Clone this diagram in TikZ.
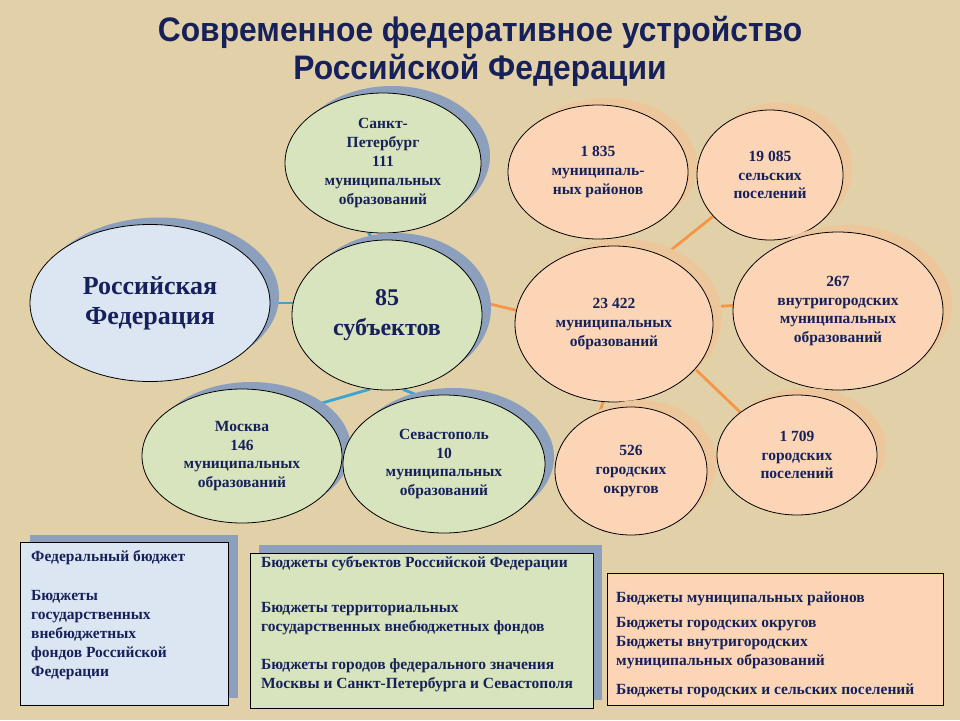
\documentclass[tikz,border=0pt]{standalone}
\usepackage{fontspec}
\usepackage{graphicx}
\setmainfont{Liberation Serif}
\newfontfamily\titlefont{Liberation Sans}
\usetikzlibrary{shapes.geometric,shadows,backgrounds}
\definecolor{bg}{RGB}{226,209,168}
\definecolor{navy}{RGB}{22,32,90}
\definecolor{gfill}{RGB}{215,228,189}
\definecolor{bfill}{RGB}{220,230,242}
\definecolor{ofill}{RGB}{251,213,181}
\definecolor{shblue}{RGB}{140,160,190}
\definecolor{shor}{RGB}{238,198,156}
\definecolor{lblue}{RGB}{60,165,205}
\definecolor{lor}{RGB}{245,150,70}
\begin{document}
\begin{tikzpicture}[x=1pt,y=-1pt,
  ell/.style={ellipse, draw=black, line width=0.8pt, inner sep=0pt, text=navy, align=center,
    font=\bfseries\fontsize{15.5}{18.8}\selectfont},
  gell/.style={ell, fill=gfill, drop shadow={shadow xshift=9pt,shadow yshift=7pt,fill=shblue,opacity=1}},
  bell/.style={ell, fill=bfill, drop shadow={shadow xshift=9pt,shadow yshift=7pt,fill=shblue,opacity=1}},
  oell/.style={ell, fill=ofill, drop shadow={shadow xshift=9pt,shadow yshift=7pt,fill=shor,opacity=1}},
  bluelink/.style={draw=lblue, line width=2.8pt},
  orlink/.style={draw=lor, line width=2.8pt},
  budget/.style={rectangle, draw=black, line width=0.9pt, inner sep=0pt},
  btext/.style={anchor=north west, inner sep=0pt, text=navy, align=left,
    font=\bfseries\fontsize{15.5}{19}\selectfont}
]
\useasboundingbox (0,0) rectangle (960,720);

% title
\node[text=navy, inner sep=0pt, font=\titlefont\bfseries\fontsize{34}{38}\selectfont] (title) at (480,53)
  {\scalebox{0.935}[1]{\begin{tabular}{@{}c@{}}Современное федеративное устройство\\Российской Федерации\end{tabular}}};

% green / blue ellipses
\node[gell, minimum width=196pt, minimum height=140pt] (spb) at (383,163)
  {Санкт-\\Петербург\\111\\муниципальных\\образований};
\node[bell, minimum width=240pt, minimum height=157pt,
      font=\bfseries\fontsize{26}{30}\selectfont] (rf) at (150,303)
  {Российская\\Федерация};
\node[gell, minimum width=190pt, minimum height=150pt,
      font=\bfseries\fontsize{24}{30}\selectfont] (subj) at (387,315)
  {85\\субъектов};
\node[gell, minimum width=200pt, minimum height=134pt] (msk) at (242,456)
  {Москва\\146\\муниципальных\\образований};
\node[gell, minimum width=202pt, minimum height=138pt] (sev) at (444,464)
  {Севастополь\\10\\муниципальных\\образований};

% orange ellipses
\node[oell, minimum width=180pt, minimum height=134pt] (mr) at (598,172)
  {1 835\\муниципаль-\\ных районов};
\node[oell, minimum width=146pt, minimum height=130pt] (sp) at (770,175)
  {19 085\\сельских\\поселений};
\node[oell, minimum width=198pt, minimum height=156pt] (mo) at (614,324)
  {23 422\\муниципальных\\образований};
\node[oell, minimum width=210pt, minimum height=158pt] (vg) at (838,311)
  {267\\внутригородских\\муниципальных\\образований};
\node[oell, minimum width=152pt, minimum height=128pt] (go) at (631,471)
  {526\\городских\\округов};
\node[oell, minimum width=160pt, minimum height=120pt] (gp) at (797,455)
  {1 709\\городских\\поселений};

% budget boxes
\node[budget, fill=bfill, minimum width=208pt, minimum height=163pt, anchor=north west,
      drop shadow={shadow xshift=10pt,shadow yshift=7pt,fill=shblue,opacity=1}] (fb) at (20,542) {};
\node[btext] (fbt) at ([shift={(11,8)}]fb.north west)
  {Федеральный бюджет\\[20pt]Бюджеты\\государственных\\внебюджетных\\фондов Российской\\Федерации};

\node[budget, fill=gfill, minimum width=343pt, minimum height=155pt, anchor=north west,
      drop shadow={shadow xshift=9pt,shadow yshift=8pt,fill=shblue,opacity=1}] (sb) at (250,553) {};
\node[btext] (sbt) at ([shift={(11,3)}]sb.north west)
  {Бюджеты субъектов Российской Федерации\\[26pt]Бюджеты территориальных\\государственных внебюджетных фондов\\[19pt]Бюджеты городов федерального значения\\Москвы и Санкт-Петербурга и Севастополя};

\node[budget, fill=ofill, minimum width=336pt, minimum height=132pt, anchor=north west] (mb) at (607,573) {};
\node[btext] (mbt) at ([shift={(9,19)}]mb.north west)
  {Бюджеты муниципальных районов\\[6pt]Бюджеты городских округов\\Бюджеты внутригородских\\муниципальных образований\\[10pt]Бюджеты городских и сельских поселений};

% connectors and background
\begin{scope}[on background layer]
  \fill[bg] (0,0) rectangle (960,720);
  \draw[bluelink] (rf.center) -- (rf.center -| subj.center);
  \draw[bluelink] (spb.258) -- (subj.100);
  \draw[bluelink] (msk.36) -- (subj.257);
  \draw[bluelink] (subj.282) -- (sev.109);
  \draw[orlink] (subj.8) -- (mo.172);
  \draw[orlink] (mo.10) -- (vg.177);
  \draw[orlink] (mo.54) -- (sp.216);
  \draw[orlink] (mo.331) -- (gp.143);
  \draw[orlink] (mo.262) -- (go.118);
\end{scope}
\end{tikzpicture}
\end{document}
